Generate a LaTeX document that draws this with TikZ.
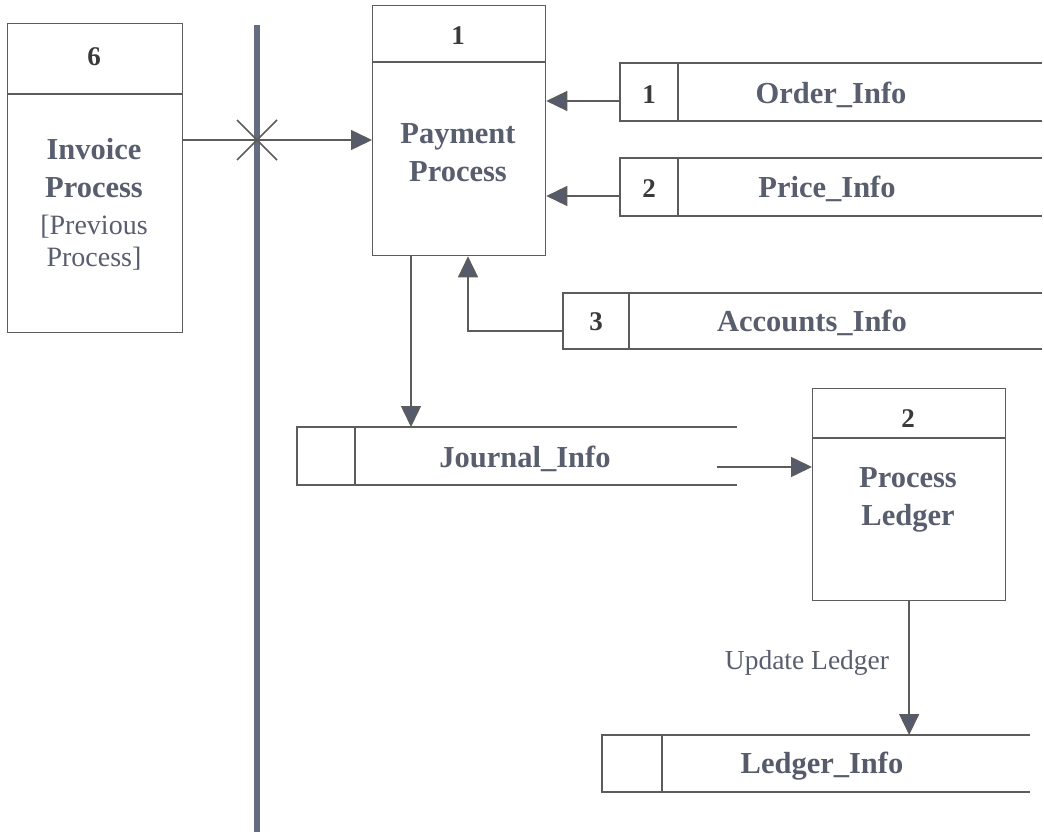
\documentclass[tikz,border=0pt]{standalone}
\usepackage{fontspec}
\setmainfont{Liberation Serif}
\usetikzlibrary{arrows.meta}
\definecolor{linec}{HTML}{5C5C5C}
\definecolor{txtc}{HTML}{585E6E}
\definecolor{numc}{HTML}{3A3A3A}
\definecolor{barc}{HTML}{646D80}
\definecolor{headc}{HTML}{555B6A}
\tikzset{
  box/.style={draw=linec, line width=1.3pt, fill=none, inner sep=0pt, anchor=north west},
  ln/.style={draw=linec, line width=1.3pt},
  flow/.style={draw=linec, line width=1.5pt, -{Triangle[length=21pt,width=20pt,fill=headc]}},
  bigtxt/.style={text=txtc, font=\fontsize{30.5}{38}\selectfont\bfseries, align=center, inner sep=0pt},
  smtxt/.style={text=txtc, font=\fontsize{28}{32}\selectfont, align=center, inner sep=0pt},
  stxt/.style={text=txtc, font=\fontsize{30.5}{34}\selectfont\bfseries, inner sep=0pt},
  num/.style={text=numc, font=\fontsize{27}{30}\selectfont\bfseries, inner sep=0pt},
  nostore/.style={inner sep=0pt, anchor=north west}
}
\begin{document}
\begin{tikzpicture}[x=1pt,y=-1pt]
\useasboundingbox (0,0) rectangle (1044,832);
\fill[white] (0,0) rectangle (1044,832);

% boundary bar
\draw[barc, line width=5.5pt] (257,25) -- (257,832);

% Process 6
\node[box, minimum width=175pt, minimum height=309pt] (p6) at (7,23) {};
\draw[ln] (7,94) -- (182,94);
\node[num] (p6n) at (94,57) {6};
\node[bigtxt] (p6t) at (94,168) {Invoice\\Process};
\node[smtxt] (p6s) at (94,243) {[Previous\\Process]};

% Process 1
\node[box, minimum width=173pt, minimum height=250pt] (pay) at (372,5) {};
\draw[ln] (372,62) -- (545,62);
\node[num] (payn) at (458,36) {1};
\node[bigtxt] (payt) at (458,153) {Payment\\Process};

% Process 2
\node[box, minimum width=193pt, minimum height=212pt] (led) at (812,388) {};
\draw[ln] (812,438) -- (1005,438);
\node[num] (ledn) at (908,419) {2};
\node[bigtxt] (ledt) at (908,500) {Process\\Ledger};

% Data store 1: Order_Info
\node[nostore, minimum width=424pt, minimum height=58pt] (ds1) at (620,63) {};
\draw[ln] (1042,63) -- (620,63) -- (620,121) -- (1042,121);
\draw[ln] (678,63) -- (678,121);
\node[num] (ds1n) at (649,95) {1};
\node[stxt] (ds1t) at (831,95) {Order\_Info};

% Data store 2: Price_Info
\node[nostore, minimum width=424pt, minimum height=58pt] (ds2) at (620,158) {};
\draw[ln] (1042,158) -- (620,158) -- (620,216) -- (1042,216);
\draw[ln] (678,158) -- (678,216);
\node[num] (ds2n) at (649,189) {2};
\node[stxt] (ds2t) at (827,189) {Price\_Info};

% Data store 3: Accounts_Info
\node[nostore, minimum width=481pt, minimum height=56pt] (ds3) at (563,293) {};
\draw[ln] (1042,293) -- (563,293) -- (563,349) -- (1042,349);
\draw[ln] (629,293) -- (629,349);
\node[num] (ds3n) at (596,322) {3};
\node[stxt] (ds3t) at (812,323) {Accounts\_Info};

% Journal_Info
\node[nostore, minimum width=440pt, minimum height=58pt] (dsj) at (297,427) {};
\draw[ln] (737,427) -- (297,427) -- (297,485) -- (737,485);
\draw[ln] (355,427) -- (355,485);
\node[stxt] (dsjt) at (525,459) {Journal\_Info};
\coordinate (jout) at (717,467);

% Ledger_Info
\node[nostore, minimum width=428pt, minimum height=57pt] (dsl) at (602,735) {};
\draw[ln] (1030,735) -- (602,735) -- (602,792) -- (1030,792);
\draw[ln] (662,735) -- (662,792);
\node[stxt, text=headc] (dslt) at (822,766) {Ledger\_Info};

% flows
\draw[flow] (p6.east |- 0,140) -- (pay.west |- 0,140);
\draw[linec, line width=1.5pt] (237,120) -- (277,160) (237,160) -- (277,120);
\draw[flow] (ds1.west |- 0,101) -- (pay.east |- 0,101);
\draw[flow] (ds2.west |- 0,196) -- (pay.east |- 0,196);
\draw[flow] (ds3.west |- 0,331) -- (468,331) -- (pay.south -| 468,0);
\draw[flow] (pay.south -| 411,0) -- (dsj.north -| 411,0);
\draw[flow] (jout) -- (led.west |- jout);
\draw[flow] (led.south) -- (dsl.north -| led.south);
\node[smtxt, font=\fontsize{27.5}{30}\selectfont] (upd) at (807,663) {Update Ledger};
\end{tikzpicture}
\end{document}
